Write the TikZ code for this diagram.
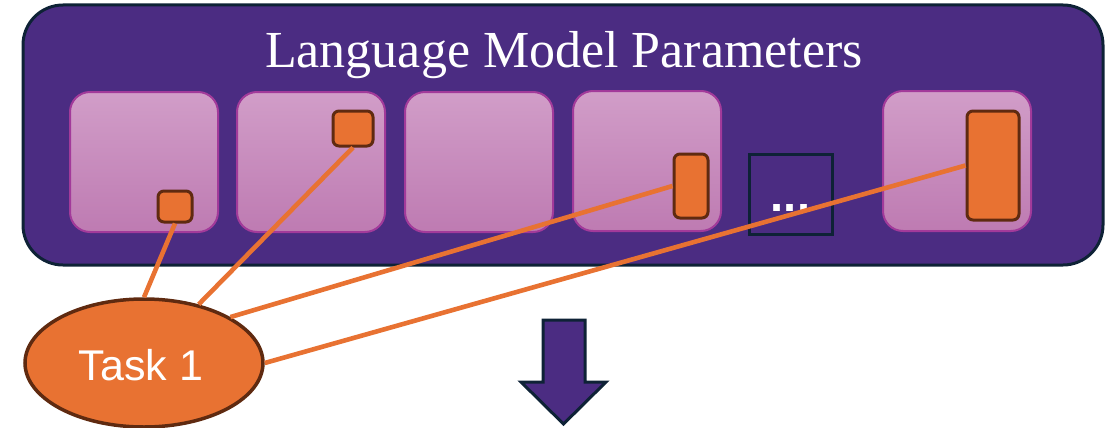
\documentclass[tikz,border=0pt]{standalone}
\usepackage{fontspec}
\usetikzlibrary{shapes.geometric}
\setmainfont{Liberation Serif}
\newfontfamily\labelsans{Liberation Sans}
\definecolor{panel}{HTML}{4B2C82}
\definecolor{ink}{HTML}{0E2236}
\definecolor{tiletop}{HTML}{D19DC8}
\definecolor{tilebot}{HTML}{BE7BB2}
\definecolor{tileedge}{HTML}{A23A9A}
\definecolor{chunk}{HTML}{E87232}
\definecolor{chunkedge}{HTML}{5F2A10}
\begin{document}
\begin{tikzpicture}[x=1pt,y=-1pt,
  paramspanel/.style={draw=ink, fill=panel, line width=3pt, rounded corners=40pt,
    minimum width=1080pt, minimum height=260pt, inner sep=0pt},
  tile/.style={draw=tileedge, line width=2pt, rounded corners=20pt,
    top color=tiletop, bottom color=tilebot,
    minimum width=148pt, minimum height=140pt, inner sep=0pt},
  chunkbox/.style={draw=chunkedge, fill=chunk, line width=3pt, rounded corners=6pt, inner sep=0pt},
  morebox/.style={draw=ink, line width=3pt, minimum width=83pt, minimum height=80pt, inner sep=0pt},
  taskblob/.style={ellipse, draw=chunkedge, fill=chunk, line width=3.5pt,
    minimum width=238pt, minimum height=128pt, inner sep=0pt},
  wire/.style={draw=chunk, line width=4.6pt}
]
\useasboundingbox (0,0) rectangle (1114,428);

% parameter block
\node[paramspanel] (params) at (563,135) {};
\node[anchor=base, text=white, font=\fontsize{52}{60}\selectfont] (title) at (564,67) {Language Model Parameters};

% layer tiles
\node[tile] (t1) at (144,162) {};
\node[tile] (t2) at (311,162) {};
\node[tile] (t3) at (479,162) {};
\node[tile] (t4) at (647,161) {};
\node[tile] (t5) at (957,161) {};

% elided layers
\node[morebox] (more) at (790.5,194) {};
\node[anchor=base, text=white, font=\labelsans\bfseries\fontsize{47}{50}\selectfont] (dots) at (790.5,211) {...};

% parameter subsets used by the task
\node[chunkbox, minimum width=34pt, minimum height=31pt] (c1) at (175,206.5) {};
\node[chunkbox, minimum width=40pt, minimum height=35pt] (c2) at (353,128.5) {};
\node[chunkbox, minimum width=34pt, minimum height=64pt] (c3) at (691,186) {};
\node[chunkbox, minimum width=52pt, minimum height=109pt] (c4) at (993,165.5) {};

% task
\node[taskblob] (task) at (144,363) {};
\node[anchor=base, text=white, font=\labelsans\fontsize{43}{50}\selectfont] (tasklabel) at (141,380) {Task 1};

% connectors
\draw[wire] (c1.south) -- (task.north);
\draw[wire] (c2.south) -- (task.47);
\draw[wire] (c3.west) -- (task.28);
\draw[wire] (c4.west) -- (task.east);

% downward arrow
\draw[fill=panel, draw=ink, line width=3pt, line join=miter]
  (543,320) -- (585,320) -- (585,382) -- (606,382) -- (563.5,424) -- (521,382) -- (543,382) -- cycle;
\end{tikzpicture}
\end{document}
